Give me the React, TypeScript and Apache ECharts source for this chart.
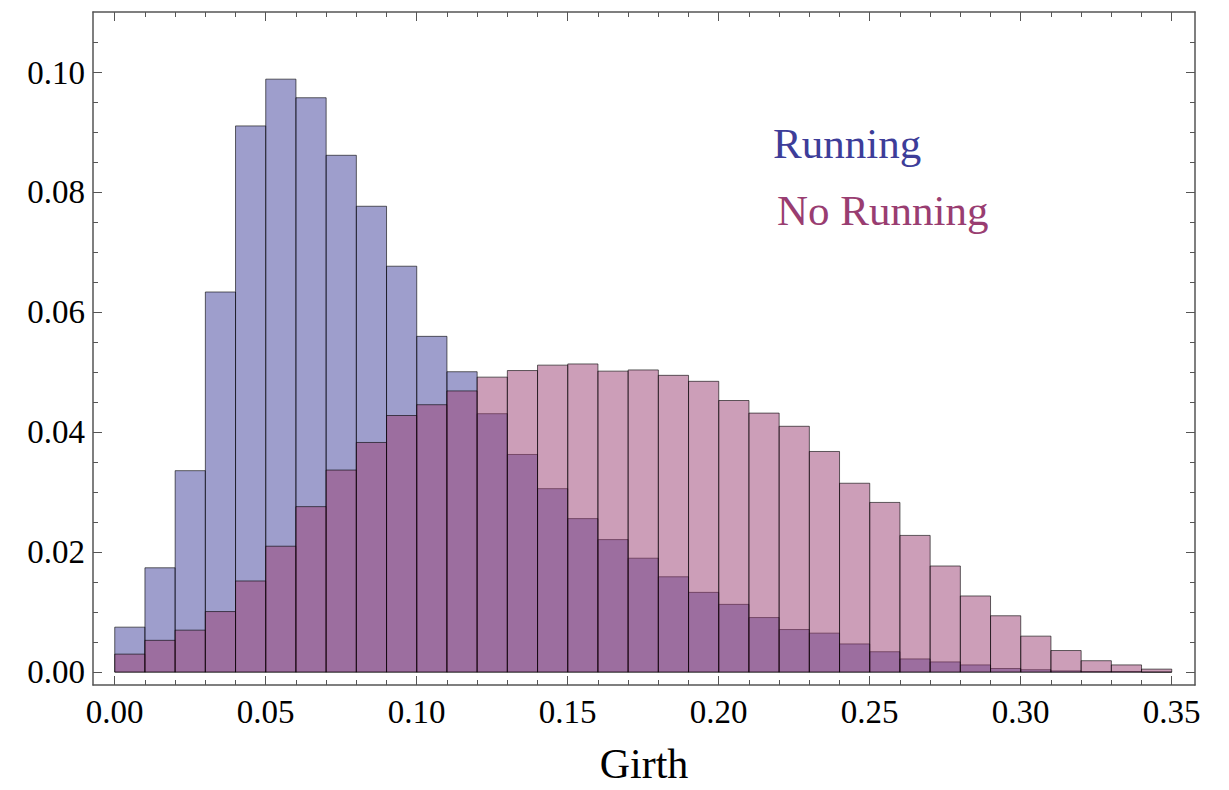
import React, { useEffect, useRef } from "react";
import * as echarts from "echarts";

const BIN_EDGES = [
  0.0, 0.01, 0.02, 0.03, 0.04, 0.05, 0.06, 0.07, 0.08, 0.09, 0.1, 0.11, 0.12,
  0.13, 0.14, 0.15, 0.16, 0.17, 0.18, 0.19, 0.2, 0.21, 0.22, 0.23, 0.24, 0.25,
  0.26, 0.27, 0.28, 0.29, 0.3, 0.31, 0.32, 0.33, 0.34, 0.35,
];

const RUNNING = [
  0.0075, 0.0174, 0.0336, 0.0634, 0.0911, 0.0989, 0.0958, 0.0862, 0.0777,
  0.0677, 0.056, 0.0501, 0.0431, 0.0363, 0.0306, 0.0256, 0.0221, 0.019,
  0.0159, 0.0133, 0.0113, 0.0091, 0.0071, 0.0065, 0.0047, 0.0034, 0.0022,
  0.0017, 0.0012, 0.0006, 0.0004, 0.0002, 0.0001, 0.0001, 0.0,
];

const NO_RUNNING = [
  0.003, 0.0053, 0.007, 0.0101, 0.0152, 0.021, 0.0276, 0.0337, 0.0383,
  0.0428, 0.0446, 0.0469, 0.0492, 0.0503, 0.0512, 0.0514, 0.0502, 0.0504,
  0.0495, 0.0485, 0.0453, 0.0432, 0.041, 0.0368, 0.0315, 0.0283, 0.0228,
  0.0177, 0.0127, 0.0094, 0.006, 0.0036, 0.0019, 0.0012, 0.0005,
];

const SERIES_NAMES = ["Running", "No Running"];
const X_MAJOR_TICKS = [0.0, 0.05, 0.1, 0.15, 0.2, 0.25, 0.3, 0.35];
const X_MINOR_TICKS = BIN_EDGES;
const Y_MAJOR_TICKS = [0.0, 0.02, 0.04, 0.06, 0.08, 0.1];
const Y_MINOR_TICKS = [
  0.0, 0.005, 0.01, 0.015, 0.02, 0.025, 0.03, 0.035, 0.04, 0.045, 0.05, 0.055,
  0.06, 0.065, 0.07, 0.075, 0.08, 0.085, 0.09, 0.095, 0.1, 0.105,
];
const X_TITLE = "Girth";

const X_MIN = -0.0072;
const X_MAX = 0.3577;
const Y_MIN = -0.00215;
const Y_MAX = 0.1101;

const FONT = "'Liberation Serif', 'Times New Roman', serif";
const FRAME = "#555555";
const FILLS = ["rgba(61,61,153,0.5)", "rgba(153,61,113,0.5)"];
const TEXT_COLORS = ["#3D3D99", "#993D71"];

function makeXAxis(pos: "bottom" | "top", ticks: number[], len: number, labels: boolean, line: boolean) {
  return {
    type: "value",
    position: pos,
    min: X_MIN,
    max: X_MAX,
    splitLine: { show: false },
    axisLine: { show: line, onZero: false, lineStyle: { color: FRAME, width: 1.5 } },
    axisTick: {
      show: true,
      inside: true,
      length: len,
      customValues: ticks,
      lineStyle: { color: FRAME, width: 1 },
    },
    axisLabel: labels
      ? {
          show: true,
          customValues: ticks,
          margin: 10,
          fontFamily: FONT,
          fontSize: 33,
          color: "#000",
          formatter: (v: number) => v.toFixed(2),
        }
      : { show: false },
    ...(labels
      ? {
          name: X_TITLE,
          nameLocation: "middle",
          nameGap: 58,
          nameTextStyle: { fontFamily: FONT, fontSize: 42, color: "#000" },
        }
      : {}),
  };
}

function makeYAxis(pos: "left" | "right", ticks: number[], len: number, labels: boolean, line: boolean) {
  return {
    type: "value",
    position: pos,
    min: Y_MIN,
    max: Y_MAX,
    splitLine: { show: false },
    axisLine: { show: line, onZero: false, lineStyle: { color: FRAME, width: 1.5 } },
    axisTick: {
      show: true,
      inside: true,
      length: len,
      customValues: ticks,
      lineStyle: { color: FRAME, width: 1 },
    },
    axisLabel: labels
      ? {
          show: true,
          customValues: ticks,
          margin: 8,
          fontFamily: FONT,
          fontSize: 33,
          color: "#000",
          formatter: (v: number) => v.toFixed(2),
        }
      : { show: false },
  };
}

function histSeries(name: string, values: number[], fill: string) {
  const data = values.map((v, i) => [BIN_EDGES[i], BIN_EDGES[i + 1], v]);
  return {
    type: "custom",
    name,
    xAxisIndex: 0,
    yAxisIndex: 0,
    encode: { x: [0, 1], y: 2 },
    data,
    renderItem: (_params: any, api: any) => {
      const x0 = api.value(0);
      const x1 = api.value(1);
      const v = api.value(2);
      const pTop = api.coord([x0, v]);
      const pBot = api.coord([x1, 0]);
      return {
        type: "rect",
        shape: {
          x: pTop[0],
          y: pTop[1],
          width: pBot[0] - pTop[0],
          height: pBot[1] - pTop[1],
        },
        style: { fill, stroke: "rgba(0,0,0,0.6)", lineWidth: 1 },
      };
    },
  };
}

export default function App() {
  const ref = useRef<HTMLDivElement>(null);
  useEffect(() => {
    if (!ref.current) return;
    const chart = echarts.init(ref.current, null, { renderer: "svg" });
    chart.setOption({
      animation: false,
      backgroundColor: "#ffffff",
      grid: { left: 93, top: 12, width: 1102, height: 680, containLabel: false },
      xAxis: [
        makeXAxis("bottom", X_MAJOR_TICKS, 9, true, true),
        makeXAxis("bottom", X_MINOR_TICKS, 5, false, false),
        makeXAxis("top", X_MAJOR_TICKS, 9, false, true),
        makeXAxis("top", X_MINOR_TICKS, 5, false, false),
      ],
      yAxis: [
        makeYAxis("left", Y_MAJOR_TICKS, 9, true, true),
        makeYAxis("left", Y_MINOR_TICKS, 5, false, false),
        makeYAxis("right", Y_MAJOR_TICKS, 9, false, true),
        makeYAxis("right", Y_MINOR_TICKS, 5, false, false),
      ],
      series: [
        histSeries(SERIES_NAMES[0], RUNNING, FILLS[0]),
        histSeries(SERIES_NAMES[1], NO_RUNNING, FILLS[1]),
      ],
      graphic: [
        {
          type: "text",
          left: 773,
          top: 122,
          style: { text: SERIES_NAMES[0], font: `43px ${FONT}`, fill: TEXT_COLORS[0] },
        },
        {
          type: "text",
          left: 777,
          top: 189,
          style: { text: SERIES_NAMES[1], font: `43px ${FONT}`, fill: TEXT_COLORS[1] },
        },
      ],
    });
    return () => chart.dispose();
  }, []);
  return (
    <div
      ref={ref}
      style={{ position: "fixed", left: 0, top: 0, width: "1229px", height: "790px", background: "#fff" }}
    />
  );
}
